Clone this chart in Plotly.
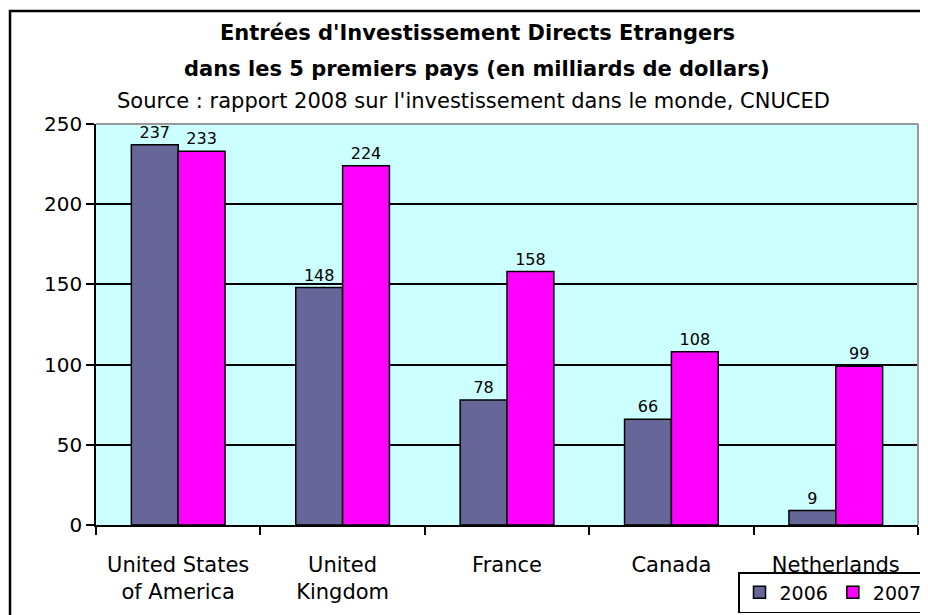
import plotly.graph_objects as go

categories = ["United States<br>of America", "United<br>Kingdom", "France", "Canada", "Netherlands"]
values_2006 = [237, 148, 78, 66, 9]
values_2007 = [233, 224, 158, 108, 99]
y_ticks = [0, 50, 100, 150, 200, 250]

FONT = "DejaVu Sans, Liberation Sans, Arial, sans-serif"

# the page body has an 8px margin; the figure is sized so it fits the window
OFF = 8
W, H = 928 - OFF, 615 - OFF

fig = go.Figure()
fig.add_trace(go.Bar(
    name="2006", x=categories, y=values_2006,
    marker=dict(color="#666699", line=dict(color="black", width=1.5)),
    text=[str(v) for v in values_2006], textposition="outside",
    textfont=dict(size=16, color="black", family=FONT), cliponaxis=False,
))
fig.add_trace(go.Bar(
    name="2007", x=categories, y=values_2007,
    marker=dict(color="#FF00FF", line=dict(color="black", width=1.5)),
    text=[str(v) for v in values_2007], textposition="outside",
    textfont=dict(size=16, color="black", family=FONT), cliponaxis=False,
))

# plot-area edges in reference (window) pixels
PL, PR, PT, PB = 96, 918, 124, 525
L, R, T, B = PL - OFF, W - (PR - OFF), PT - OFF, H - (PB - OFF)
PW, PH = W - L - R, H - T - B


def px(x):
    return (x - PL) / PW


def py(y):
    return (PB - y) / PH


fig.update_layout(
    width=W, height=H,
    margin=dict(l=L, r=R, t=T, b=B, autoexpand=False),
    paper_bgcolor="white",
    plot_bgcolor="#CCFFFF",
    barmode="group",
    bargap=0.43,
    bargroupgap=0,
    font=dict(family=FONT, size=19, color="black"),
    showlegend=True,
    legend=dict(
        orientation="h", x=px(928), xanchor="right", y=py(572), yanchor="top",
        bordercolor="black", borderwidth=1.5, bgcolor="white",
        font=dict(size=19, family=FONT), traceorder="normal",
        itemwidth=30,
    ),
    xaxis=dict(
        showline=True, linecolor="black", linewidth=1.5,
        ticks="outside", tickson="boundaries", ticklen=8, tickcolor="black", tickwidth=1.5,
        tickfont=dict(size=21, family=FONT),
        ticklabelstandoff=20,
        showgrid=False,
    ),
    yaxis=dict(
        range=[0, 250], tickvals=y_ticks,
        showline=True, linecolor="black", linewidth=1.5,
        ticks="outside", ticklen=8, tickcolor="black", tickwidth=1.5,
        showgrid=True, gridcolor="black", gridwidth=1.5,
        tickfont=dict(size=20, family=FONT),
        zeroline=False,
    ),
    shapes=[
        dict(type="line", xref="paper", yref="paper", x0=0, x1=1, y0=1, y1=1,
             line=dict(color="#999999", width=2)),
        dict(type="line", xref="paper", yref="paper", x0=1, x1=1, y0=0, y1=1,
             line=dict(color="#999999", width=2)),
        dict(type="rect", xref="paper", yref="paper",
             x0=px(10), x1=px(945), y0=py(640), y1=py(11),
             line=dict(color="black", width=2.5), fillcolor="rgba(0,0,0,0)", layer="below"),
    ],
    annotations=[
        dict(text="<b>Entrées d'Investissement Directs Etrangers</b>", xref="paper", yref="paper",
             x=px(477), y=py(33), showarrow=False,
             font=dict(size=21, family=FONT), xanchor="center", yanchor="middle"),
        dict(text="<b>dans les 5 premiers pays (en milliards de dollars)</b>", xref="paper", yref="paper",
             x=px(477), y=py(69), showarrow=False,
             font=dict(size=21, family=FONT), xanchor="center", yanchor="middle"),
        dict(text="Source : rapport 2008 sur l'investissement dans le monde, CNUCED", xref="paper", yref="paper",
             x=px(473), y=py(101), showarrow=False,
             font=dict(size=21, family=FONT), xanchor="center", yanchor="middle"),
    ],
)

fig.write_html("out.html")
